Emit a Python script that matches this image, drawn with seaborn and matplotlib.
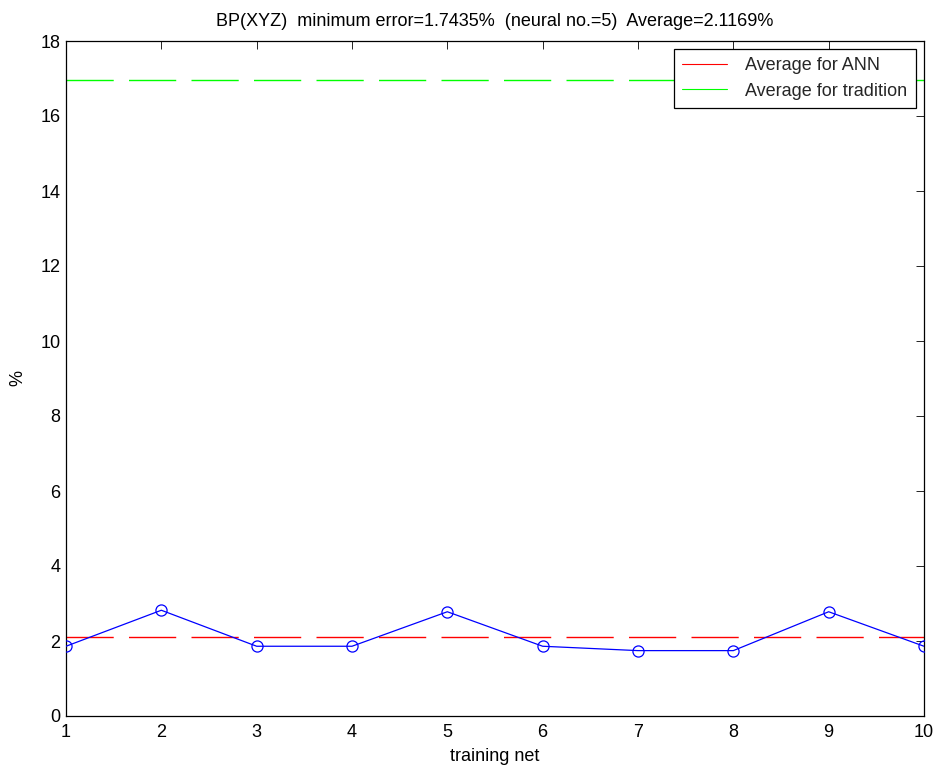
import matplotlib
matplotlib.use("Agg")
import matplotlib.pyplot as plt
from matplotlib.lines import Line2D
import seaborn as sns
import pandas as pd

training_net = [1, 2, 3, 4, 5, 6, 7, 8, 9, 10]
error_pct = [1.86, 2.82, 1.86, 1.86, 2.78, 1.86, 1.7435, 1.7435, 2.78, 1.86]
avg_ann = 2.1169
avg_tradition = 16.97
title_text = "BP(XYZ)  minimum error=1.7435%  (neural no.=5)  Average=2.1169%"
legend_labels = ["Average for ANN", "Average for tradition"]

sns.set_theme(style="white")
plt.rcParams["font.family"] = ["Liberation Sans", "DejaVu Sans"]
plt.rcParams["xtick.direction"] = "in"
plt.rcParams["ytick.direction"] = "in"

FS = 13

fig = plt.figure(figsize=(9.38, 7.72), dpi=100)
ax = fig.add_axes([66/938, 1-716/772, (924-66)/938, (716-41)/772])

df = pd.DataFrame({"net": training_net, "err": error_pct})
sns.lineplot(data=df, x="net", y="err", ax=ax, color=(0, 0, 1), linewidth=0.9,
             marker="o", markersize=8, markerfacecolor="none",
             markeredgecolor=(0, 0, 1), markeredgewidth=0.9, zorder=3)

ax.axhline(avg_ann, color=(1, 0, 0), linewidth=1.0, dashes=(34, 11), zorder=2)
ax.axhline(avg_tradition, color=(0, 1, 0), linewidth=1.0, dashes=(34, 11), zorder=2)

ax.set_xlim(1, 10)
ax.set_ylim(0, 18)
ax.set_xticks(training_net)
ax.set_yticks(range(0, 19, 2))
ax.tick_params(axis="both", which="both", direction="in", length=5.5, width=0.6,
               top=True, right=True, labelsize=FS, colors="black")
ax.tick_params(axis="x", pad=6)
ax.tick_params(axis="y", pad=4)
for s in ax.spines.values():
    s.set_visible(True)
    s.set_color("black")
    s.set_linewidth(0.9)

ax.set_xlabel("training net", fontsize=FS, color="black", labelpad=5)
ax.set_ylabel("%", fontsize=FS, color="black", labelpad=10)
ax.set_title(title_text, fontsize=FS, color="black", pad=11)

handles = [Line2D([0], [0], color=(1, 0, 0), linewidth=0.8),
           Line2D([0], [0], color=(0, 1, 0), linewidth=0.8)]
leg = ax.legend(handles, legend_labels, loc="upper right", fontsize=FS,
                frameon=True, fancybox=False, borderaxespad=0.46,
                handlelength=2.5, handletextpad=1.0, borderpad=0.45,
                labelspacing=0.45)
leg.get_frame().set_edgecolor("black")
leg.get_frame().set_linewidth(0.9)
leg.get_frame().set_alpha(1)

fig.savefig("out.png", dpi=100)
